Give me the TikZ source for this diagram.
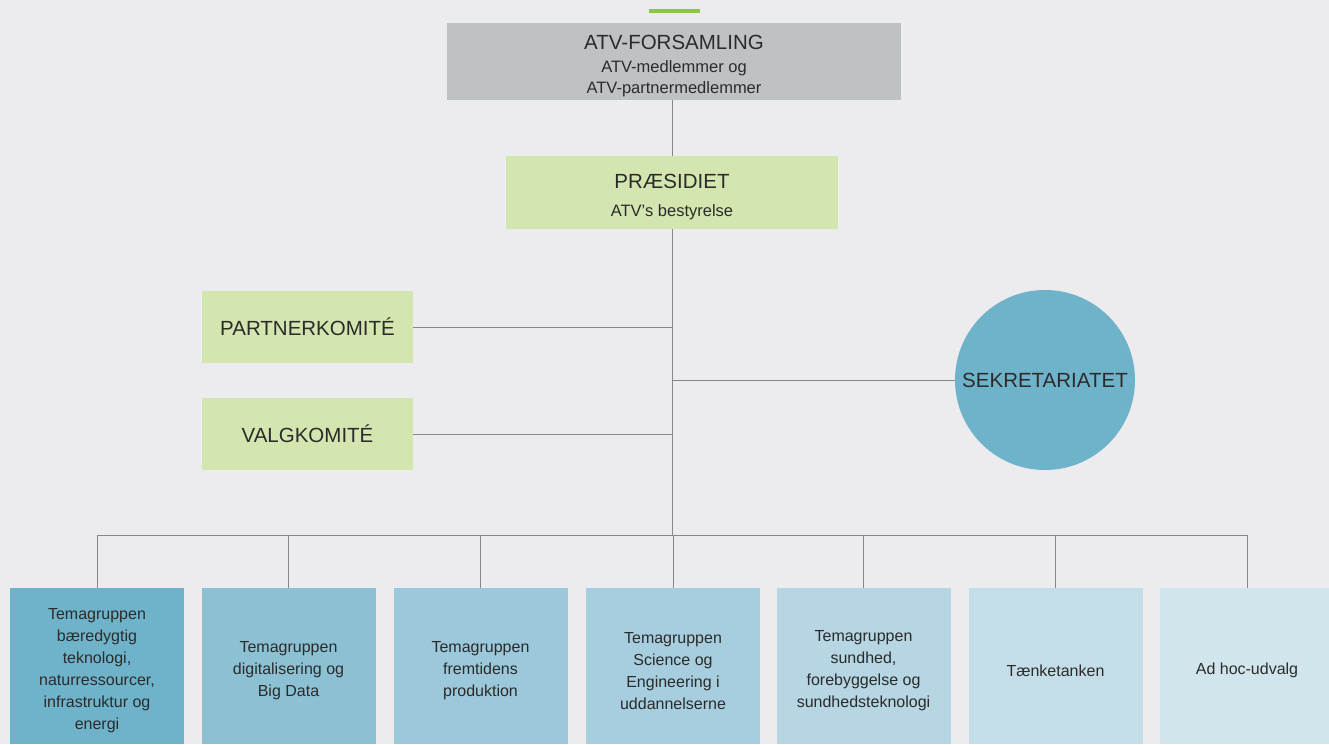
\documentclass[tikz,border=0pt]{standalone}
\usepackage{fontspec}
\setmainfont{Liberation Sans}
\usepackage{xcolor}
\usepackage{tikz}
\usetikzlibrary{calc,positioning}
\definecolor{bg}{HTML}{ECECEE}
\definecolor{ink}{HTML}{2B2B2B}
\definecolor{wire}{HTML}{888888}
\definecolor{accent}{HTML}{8DC63F}
\definecolor{grey}{HTML}{BFC2C5}
\definecolor{lime}{HTML}{D4E6B0}
\definecolor{teal}{HTML}{6FB3CB}
\definecolor{tA}{HTML}{6FB3CB}
\definecolor{tB}{HTML}{8CC1D4}
\definecolor{tC}{HTML}{9BC8DA}
\definecolor{tD}{HTML}{A7CEDF}
\definecolor{tE}{HTML}{B5D6E2}
\definecolor{tF}{HTML}{C4DEE7}
\definecolor{tG}{HTML}{D1E5EC}
\newcommand{\bigtxt}{\fontsize{20.5}{24}\selectfont}
\newcommand{\subtxt}{\fontsize{16.5}{21}\selectfont}
\newcommand{\grptxt}{\fontsize{16}{22}\selectfont}
% extra room above the first line, pushes the text block down a bit
\newcommand{\topgap}{\rule{0pt}{\dimexpr\fontcharht\font`T+10pt\relax}}
\tikzstyle{link} = [draw=wire, line width=1pt]
\tikzstyle{box} = [rectangle, inner sep=0pt, align=center, text=ink]
\tikzstyle{head} = [box, font=\subtxt]
\tikzstyle{side} = [box, fill=lime, font=\bigtxt,
                    minimum width=211pt, minimum height=72pt]
\tikzstyle{circ} = [circle, inner sep=0pt, fill=teal, text=ink,
                    font=\bigtxt, minimum size=180pt]
\tikzstyle{group} = [box, font=\grptxt,
                     minimum width=174pt, minimum height=156pt]
\begin{document}
\begin{tikzpicture}[x=1pt, y=-1pt]
      \fill [bg] (0,0) rectangle (1329,744);
      \useasboundingbox (0,0) rectangle (1329,744);
      \draw [accent, line width=4pt] (649,11) -- (700,11);
      \node [head, fill=grey, minimum width=454pt, minimum height=77pt]
        at (674,61.5) (forsamling)
        {{\bigtxt\topgap ATV-FORSAMLING}\\[2pt]
          ATV-medlemmer og\\
          ATV-partnermedlemmer};
      \node [head, fill=lime, minimum width=332pt, minimum height=73pt]
        at (672,192.5) (praesidiet)
        {{\bigtxt\topgap PRÆSIDIET}\\[7pt]
          ATV’s bestyrelse};
      \node [side] at (307.5,327) (partner) {PARTNERKOMITÉ};
      \node [side] at (307.5,434) (valg) {VALGKOMITÉ};
      \node [circ] at (1045,380) (sekr) {SEKRETARIATET};
      \node [group, fill=tA] at (97,666) (g1)
        {\topgap Temagruppen\\
          bæredygtig\\
          teknologi,\\
          naturressourcer,\\
          infrastruktur og\\
          energi};
      \node [group, fill=tB] at (288.5,666) (g2)
        {\topgap Temagruppen\\
          digitalisering og\\
          Big Data};
      \node [group, fill=tC] at (480.5,666) (g3)
        {\topgap Temagruppen\\
          fremtidens\\
          produktion};
      \node [group, fill=tD] at (673,666) (g4)
        {\topgap Temagruppen\\
          Science og\\
          Engineering i\\
          uddannelserne};
      \node [group, fill=tE] at (863.5,666) (g5)
        {\topgap Temagruppen\\
          sundhed,\\
          forebyggelse og\\
          sundhedsteknologi};
      \node [group, fill=tF] at (1055.5,666) (g6) {\topgap Tænketanken};
      \node [group, fill=tG] at (1247,666) (g7) {\topgap Ad hoc-udvalg};
      \coordinate (hub) at (672,535);
      \path [link] (praesidiet.north) -- (praesidiet.north |- forsamling.south);
      \path [link] (praesidiet.south) -- (hub);
      \path [link] (partner.east) -- (partner.east -| hub);
      \path [link] (valg.east) -- (valg.east -| hub);
      \path [link] (sekr.west) -- (sekr.west -| hub);
      \path [link] (g1.north |- hub) -- (g7.north |- hub);
      \foreach \g in {g1,g2,g3,g4,g5,g6,g7}
        \path [link] (\g.north) -- (\g.north |- hub);
    \end{tikzpicture}
\end{document}
